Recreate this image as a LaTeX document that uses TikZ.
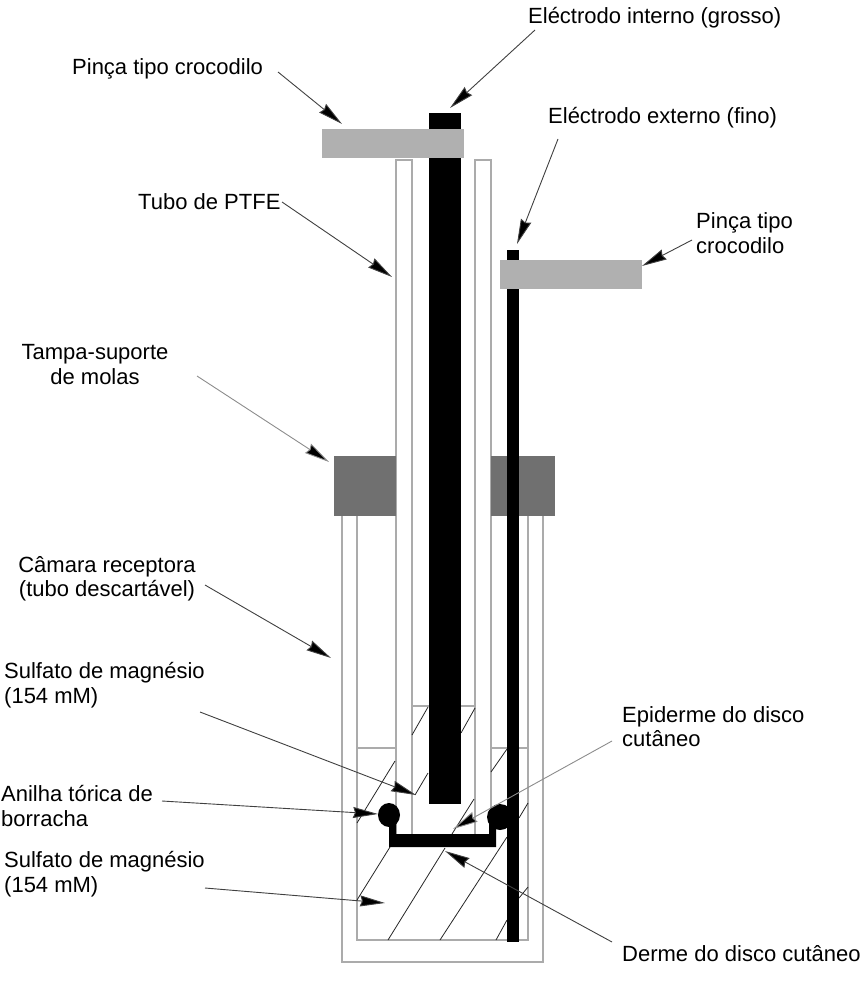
\documentclass[tikz,border=0pt]{standalone}
\usepackage{fontspec}
\setmainfont{Liberation Sans}
\usetikzlibrary{arrows.meta}
\definecolor{wallgray}{HTML}{ABABAB}
\definecolor{clipgray}{HTML}{B0B0B0}
\definecolor{capgray}{HTML}{707070}
\tikzset{
  wall/.style={draw=wallgray, line width=1.2pt},
  hatchline/.style={black!85, line width=0.8pt},
  pointer/.style={draw=black!75, line width=0.9pt, -{Stealth[length=25pt,width=11pt,inset=2pt,fill=black]}},
  softpointer/.style={pointer, draw=black!45},
  label/.style={anchor=west, inner sep=0pt, align=left, font=\fontsize{22}{24.5}\selectfont},
  centerlabel/.style={label, anchor=center, align=center},
}
\begin{document}
\begin{tikzpicture}[x=1pt, y=-1pt]
\useasboundingbox (0,0) rectangle (866,992);

% Outer tube and its inner wall
\draw[wall] (342,516) -- (342,962) -- (543,962) -- (543,516);
\draw[wall] (357,516) -- (357,940) -- (528,940) -- (528,516);

% PTFE tube
\draw[wall] (396,835) -- (396,160) -- (412,160) -- (412,835);
\draw[wall] (475,835) -- (475,160) -- (491,160) -- (491,835);

% liquid levels
\draw[wall] (357,748) -- (396,748);
\draw[wall] (491,748) -- (528,748);
\draw[wall] (412,706) -- (475,706);

% hatching of the liquid
\draw[hatchline] (428,707) -- (412,735);
\draw[hatchline] (475,708) -- (461,733);
\draw[hatchline] (428,773) -- (415,795);
\draw[hatchline] (474,799) -- (452,834);
\draw[hatchline] (395,761) -- (357,823);
\draw[hatchline] (390,847) -- (357,900);
\draw[hatchline] (445,848) -- (388,940);
\draw[hatchline] (507,749) -- (491,772);
\draw[hatchline] (528,803) -- (519,818);
\draw[hatchline] (507,837) -- (440,940);
\draw[hatchline] (528,887) -- (519,898);
\draw[hatchline] (507,920) -- (496,940);

% Spring cap
\fill[capgray] (334,456) rectangle (396,516);
\fill[capgray] (491,456) rectangle (555,516);

% Electrodes
\fill[black] (429,113) rectangle (461,804);
\fill[black] (507,250) rectangle (519,942);

% Skin disc and o-rings
\fill[black] (389,815) -- (396,815) -- (396,834) -- (489,834) -- (489,815) -- (496,815) -- (496,847) -- (389,847) -- cycle;
\fill[black] (389,815) ellipse (11 and 12);
\fill[black] (500,817) ellipse (13 and 13);

% Clips
\fill[clipgray] (322,129) rectangle (464,158);
\fill[clipgray] (500,260) rectangle (642,289);

% Labels
\node[label] (innerlabel) at (528,18) {Eléctrodo interno (grosso)};
\node[label] (clipleftlabel) at (72,69) {Pinça tipo crocodilo};
\node[label] (outerlabel) at (548,118) {Eléctrodo externo (fino)};
\node[label] (cliprightlabel) at (696,233) {Pinça tipo\\crocodilo};
\node[label] (tubelabel) at (138,202) {Tubo de PTFE};
\node[centerlabel] (caplabel) at (95,364.5) {Tampa-suporte\\de molas};
\node[centerlabel] (chamberlabel) at (107,579) {Câmara receptora\\(tubo descartável)};
\node[label] (sulfateuplabel) at (4,685) {Sulfato de magnésio\\(154 mM)};
\node[label] (epidermlabel) at (622,726.5) {Epiderme do disco\\cutâneo};
\node[label] (ringlabel) at (1,806) {Anilha tórica de\\borracha};
\node[label] (sulfatelowlabel) at (4,874) {Sulfato de magnésio\\(154 mM)};
\node[label] (dermlabel) at (622,954) {Derme do disco cutâneo};

% Arrow ends
\coordinate (innerfrom) at (535,30);
\coordinate (innerto) at (450,108);
\coordinate (clipleftfrom) at (278,72);
\coordinate (clipleftto) at (342,124);
\coordinate (outerfrom) at (558,139);
\coordinate (outerto) at (517,244);
\coordinate (cliprightfrom) at (692,240);
\coordinate (cliprightto) at (642,266);
\coordinate (tubefrom) at (282,202);
\coordinate (tubeto) at (392,277);
\coordinate (capfrom) at (197,376);
\coordinate (capto) at (329,462);
\coordinate (chamberfrom) at (205,585);
\coordinate (chamberto) at (331,658);
\coordinate (sulfateupfrom) at (200,712);
\coordinate (sulfateupto) at (416,795);
\coordinate (ringfrom) at (162,801);
\coordinate (ringto) at (378,814);
\coordinate (sulfatelowfrom) at (205,888);
\coordinate (sulfatelowto) at (385,903);
\coordinate (epidermfrom) at (612,741);
\coordinate (epidermto) at (453,829);
\coordinate (dermfrom) at (612,942);
\coordinate (dermto) at (445,851);

% Arrows
\draw[pointer] (innerfrom) -- (innerto);
\draw[pointer] (clipleftfrom) -- (clipleftto);
\draw[pointer] (outerfrom) -- (outerto);
\draw[pointer] (cliprightfrom) -- (cliprightto);
\draw[pointer] (tubefrom) -- (tubeto);
\draw[softpointer] (capfrom) -- (capto);
\draw[pointer] (chamberfrom) -- (chamberto);
\draw[pointer] (sulfateupfrom) -- (sulfateupto);
\draw[pointer] (ringfrom) -- (ringto);
\draw[pointer] (sulfatelowfrom) -- (sulfatelowto);
\draw[softpointer] (epidermfrom) -- (epidermto);
\draw[pointer] (dermfrom) -- (dermto);

\end{tikzpicture}
\end{document}
